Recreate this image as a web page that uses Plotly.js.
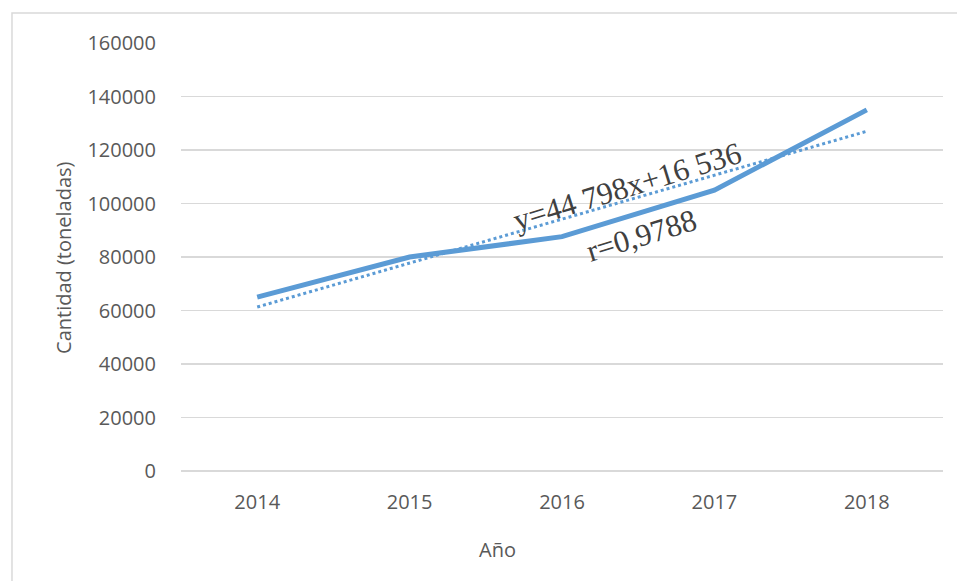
<!DOCTYPE html>
<html>
<head>
<meta charset="utf-8">
<script src="https://cdn.plot.ly/plotly-3.0.1.min.js"></script>
<style>html,body{margin:0;padding:0;background:#fff;}#chart{width:957px;height:581px;}</style>
</head>
<body>
<div id="chart"></div>
<script>
const years = ['2014', '2015', '2016', '2017', '2018'];
const cantidad = [65000, 80000, 87600, 105000, 135000];
const trendYears = ['2014', '2018'];
const trendValues = [61300, 127000];
const yTicks = [0, 20000, 40000, 60000, 80000, 100000, 120000, 140000, 160000];
const equationText = 'y=44 798x+16 536';
const rText = 'r=0,9788';

const blue = '#5b9bd5';
const grid = '#d9d9d9';
const txt = '#595959';
const font = 'Open Sans, Liberation Sans, sans-serif';

const traces = [
  {x: years, y: cantidad, type: 'scatter', mode: 'lines',
   line: {color: blue, width: 5}, hoverinfo: 'skip', showlegend: false},
  {x: trendYears, y: trendValues, type: 'scatter', mode: 'lines',
   line: {color: blue, width: 3, dash: 'dot'}, hoverinfo: 'skip', showlegend: false}
];

const layout = {
  width: 957, height: 581,
  margin: {l: 181, r: 14, t: 43, b: 110, pad: 0},
  paper_bgcolor: '#ffffff', plot_bgcolor: '#ffffff',
  showlegend: false,
  font: {family: font, size: 20, color: txt},
  xaxis: {
    type: 'category', categoryorder: 'array', categoryarray: years,
    range: [-0.5, 4.5], showgrid: false, zeroline: false, showline: false,
    ticks: 'outside', ticklen: 13, tickcolor: 'rgba(0,0,0,0)',
    tickfont: {family: font, size: 20, color: txt}, fixedrange: true
  },
  yaxis: {
    range: [0, 160000], tickvals: yTicks, ticktext: yTicks.map(String),
    showgrid: true, gridcolor: grid, gridwidth: 1.5,
    zeroline: true, zerolinecolor: grid, zerolinewidth: 1.5, showline: false,
    ticks: 'outside', ticklen: 20, tickcolor: 'rgba(0,0,0,0)',
    tickfont: {family: font, size: 20, color: txt}, fixedrange: true
  },
  shapes: [
    {type: 'rect', xref: 'paper', yref: 'paper', x0: -0.2218, x1: 2, y0: -1, y1: 1.070,
     line: {color: grid, width: 1.5}, fillcolor: 'rgba(0,0,0,0)', layer: 'below'}
  ],
  annotations: [
    {text: 'Cantidad (toneladas)', xref: 'paper', yref: 'paper', x: -0.1549, y: 0.5,
     xanchor: 'center', yanchor: 'middle', textangle: -90, showarrow: false,
     font: {family: font, size: 20, color: txt}},
    {text: 'Año', xref: 'paper', yref: 'paper', x: 0.4147, y: -0.183,
     xanchor: 'center', yanchor: 'middle', showarrow: false,
     font: {family: font, size: 20, color: txt}},
    {text: equationText, xref: 'paper', yref: 'paper', x: 0.5853, y: 0.664,
     xanchor: 'center', yanchor: 'middle', textangle: -17, showarrow: false,
     font: {family: 'Liberation Serif, Times New Roman, serif', size: 31, color: '#404040'}},
    {text: rText, xref: 'paper', yref: 'paper', x: 0.6037, y: 0.5496,
     xanchor: 'center', yanchor: 'middle', textangle: -17, showarrow: false,
     font: {family: 'Liberation Serif, Times New Roman, serif', size: 31, color: '#404040'}}
  ]
};

Plotly.newPlot('chart', traces, layout, {displayModeBar: false, staticPlot: true});
</script>
</body>
</html>
